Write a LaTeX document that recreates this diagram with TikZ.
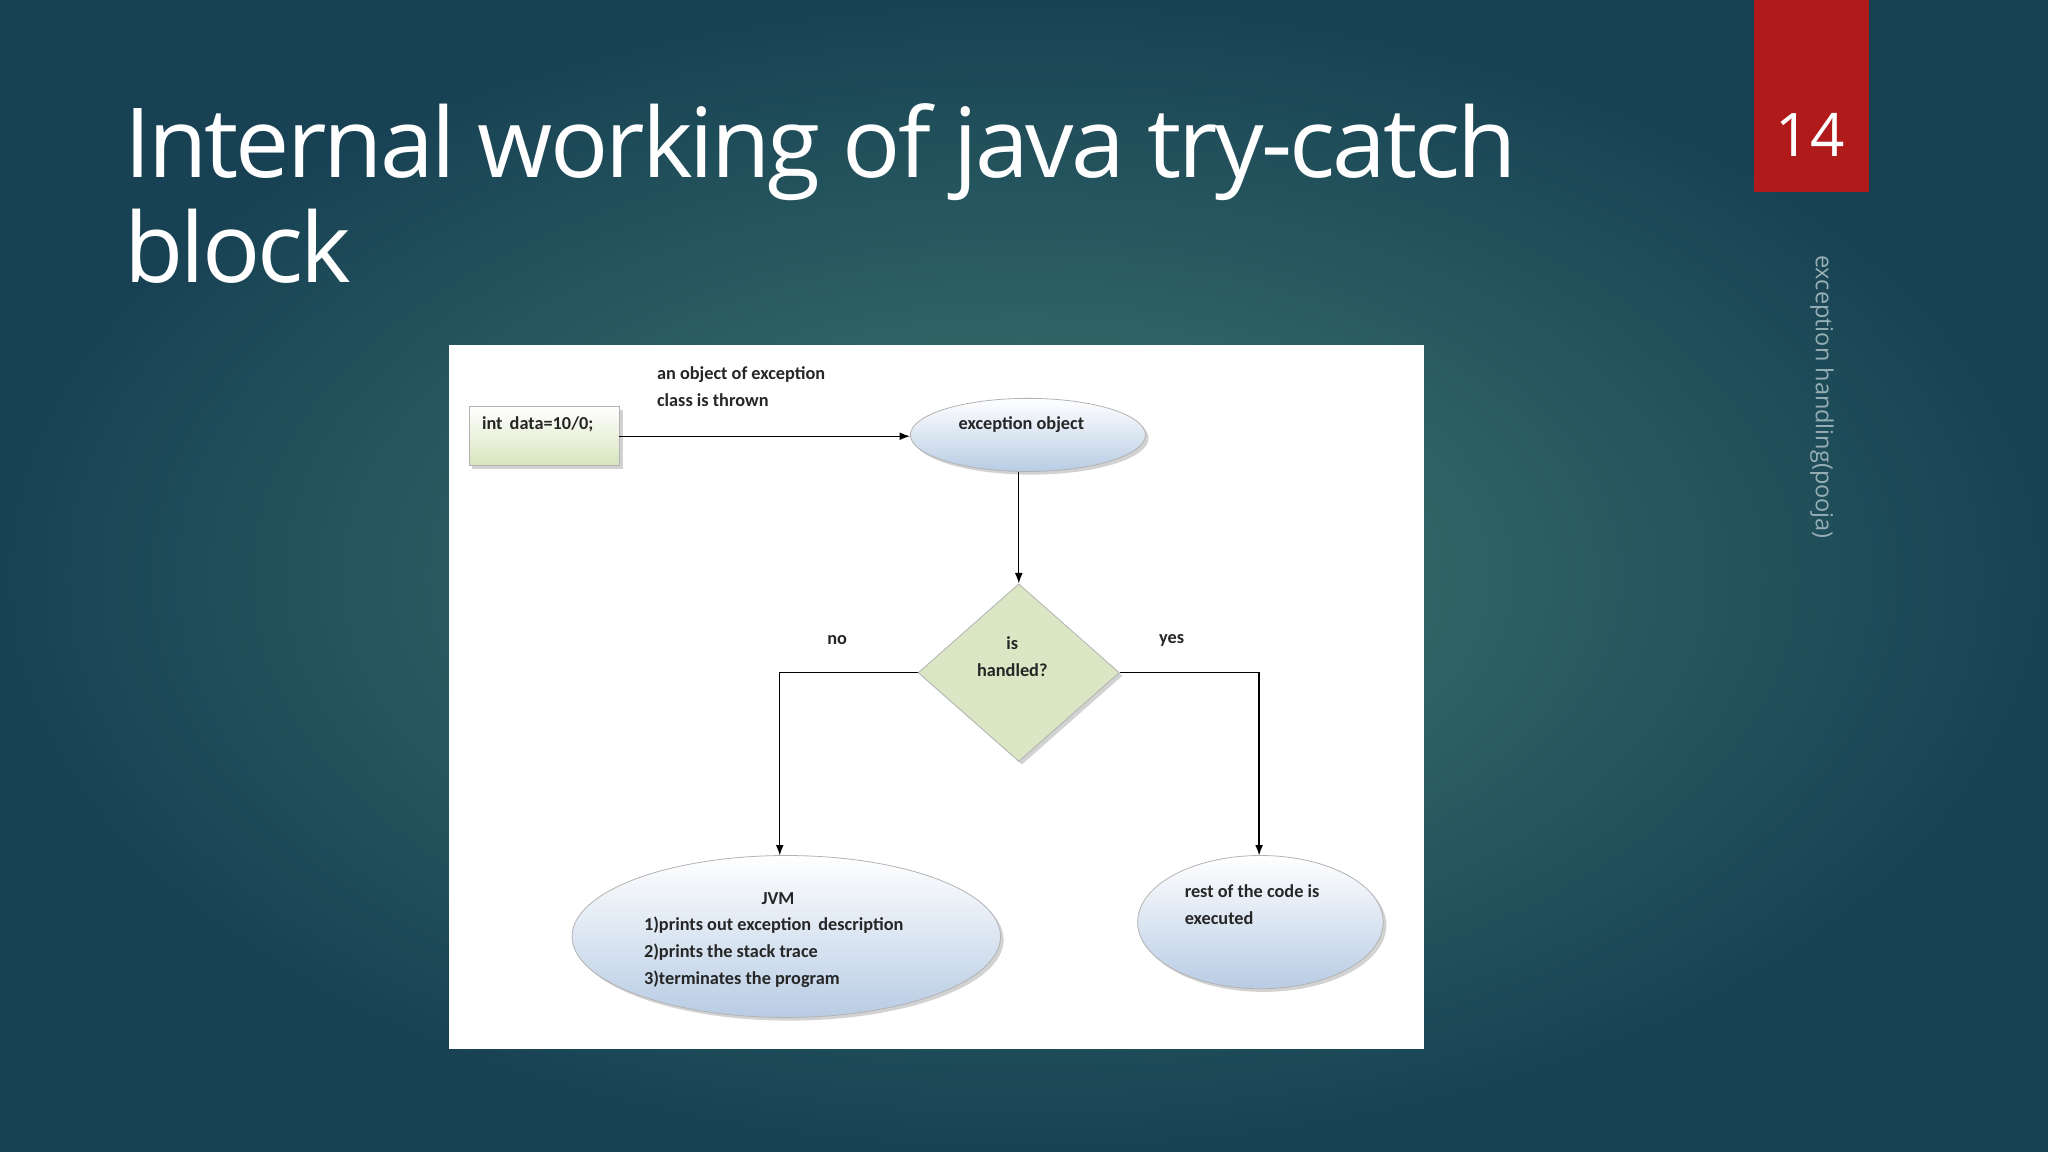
\documentclass[tikz,border=0pt]{standalone}
\usepackage{fontspec}
\setmainfont{Open Sans}
\newfontfamily\carl{Carlito}
\usetikzlibrary{shapes.geometric,arrows.meta,shadows}
\definecolor{bgin}{RGB}{62,122,112}
\definecolor{bgout}{RGB}{24,66,84}
\definecolor{redbox}{RGB}{176,26,26}
\definecolor{lgreen}{RGB}{215,228,189}
\definecolor{dgreen}{RGB}{218,230,196}
\definecolor{lblue}{RGB}{184,204,228}
\definecolor{sidetxt}{RGB}{150,175,180}
\begin{document}
\begin{tikzpicture}[x=0.5pt,y=-0.5pt,
  lbl/.style={font=\carl\bfseries\fontsize{7}{10.3}\selectfont,text=black!85,align=left},
  conn/.style={draw=black,line width=0.5pt,-{Latex[length=4pt,width=3pt]}},
  sh/.style={drop shadow={shadow xshift=1.2pt,shadow yshift=-1.2pt,fill=black!35,opacity=0.5}},
  ell/.style={ellipse,sh,draw=black!30,line width=0.3pt,top color=white,bottom color=lblue,inner sep=0pt}]
\useasboundingbox (0,0) rectangle (1568,882);
\shade[inner color=bgin,outer color=bgout] (0,0) rectangle (1568,882);
\node[anchor=west,text=white,align=left,font=\fontsize{37}{40}\selectfont\addfontfeature{LetterSpace=-3}] (title) at (88,148) {Internal working of java try-catch\\block};
\fill[redbox] (1343,0) rectangle (1431,147);
\node[text=white,font=\fontsize{23}{23}\selectfont] (num) at (1386,103) {14};
\node[rotate=-90,text=sidetxt,font=\fontsize{9}{9}\selectfont] (side) at (1395,304) {exception handling(pooja)};
\fill[white] (344,264) rectangle (1090,803);
\node[sh,draw=black!30,line width=0.3pt,top color=white,bottom color=lgreen,minimum width=57.5pt,minimum height=22.5pt,anchor=north west] (rect) at (359,311) {};
\node[lbl,anchor=north west] (rtext) at (362,312) {int\, data=10/0;};
\node[ell,minimum width=90pt,minimum height=28pt] (exc) at (787,333) {};
\node[lbl] at (782,325) {exception object};
\node[diamond,sh,draw=black!30,line width=0.3pt,fill=dgreen,minimum width=77pt,minimum height=68pt,inner sep=0pt,aspect=1.13] (dia) at (780,515) {};
\node[lbl,align=center] at (775,503) {is\\handled?};
\node[ell,minimum width=164pt,minimum height=62pt] (jvm) at (602,717) {};
\node[lbl,align=left,anchor=north west] at (486,676) {\hspace*{45pt}JVM\\1)prints out exception\, description\\2)prints the stack trace\\3)terminates the program};
\node[ell,minimum width=94pt,minimum height=51pt] (rest) at (965,706) {};
\node[lbl,anchor=north west] at (900,670) {rest of the code is\\executed};
\node[lbl,anchor=north west] (thrown) at (496,274) {an object of exception\\class is thrown};
\node[lbl] (no) at (641,490) {no};
\node[lbl] (yes) at (897,490) {yes};
\coordinate (c1) at (597,515);
\coordinate (c2) at (964,515);
\coordinate (c3) at (780,447);
\coordinate (r1) at (474,334);
\coordinate (e1) at (597,655);
\coordinate (e2) at (964,655);
\draw[conn] (r1) -- (r1 -| exc.west);
\draw[conn] (exc.south -| c3) -- (dia.north);
\draw[conn] (dia.west) -- (c1) -- (e1);
\draw[conn] (dia.east) -- (c2) -- (e2);
\end{tikzpicture}
\end{document}
